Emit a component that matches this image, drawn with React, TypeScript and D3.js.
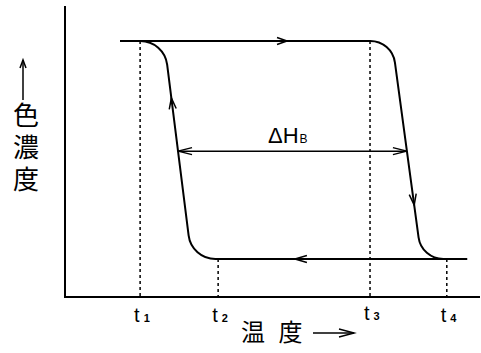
import React from "react";
import * as d3 from "d3";

// ---- data (temperature 0..100, colour density 0..100) ----
const HIGH = 88.3;
const LOW = 13.1;
const tempTicks = [18.1, 36.9, 73.5, 92.0];
const tickSubs = ["1", "2", "3", "4"];
// polyline vertices of each branch (corners get rounded)
const heatingBranch: [number, number][] = [
  [13.25, 88.3], [78.8, 88.3], [85.9, 13.1], [96.9, 13.1],
];
const coolingBranch: [number, number][] = [
  [18.1, 88.3], [23.9, 88.3], [30.5, 13.1], [96.9, 13.1],
];
const topArrowX = 53.5;
const bottomArrowX = 55.4;
const coolingArrowY = 68.6;
const heatingArrowY = 31.7;
const deltaY = 50.3;
const yLabel = "色濃度";
const xLabel = "温 度";

const W = 481, H = 353;
const x = d3.scaleLinear().domain([0, 100]).range([65, 480]);
const y = d3.scaleLinear().domain([0, 100]).range([297, 7]);

function roundedPath(pts: [number, number][], r: number) {
  const p = d3.path();
  const P = pts.map(d => [x(d[0]), y(d[1])]);
  p.moveTo(P[0][0], P[0][1]);
  for (let i = 1; i < P.length - 1; i++) p.arcTo(P[i][0], P[i][1], P[i + 1][0], P[i + 1][1], r);
  p.lineTo(P[P.length - 1][0], P[P.length - 1][1]);
  return p.toString();
}

function slopeX(branch: [number, number][], yv: number) {
  const [a, b] = [branch[1], branch[2]];
  const t = (yv - a[1]) / (b[1] - a[1]);
  return a[0] + t * (b[0] - a[0]);
}

function Head({ tx, ty, ang, len = 11, spread = 3.8, sw = 1.5 }:
  { tx: number; ty: number; ang: number; len?: number; spread?: number; sw?: number }) {
  const bx = tx - Math.cos(ang) * len, by = ty - Math.sin(ang) * len;
  const px = -Math.sin(ang) * spread, py = Math.cos(ang) * spread;
  return (
    <path d={`M${bx + px},${by + py}L${tx},${ty}L${bx - px},${by - py}`}
      fill="none" stroke="#000" strokeWidth={sw} />
  );
}

export default function App() {
  const c1 = [x(coolingBranch[1][0]), y(coolingBranch[1][1])];
  const c2 = [x(coolingBranch[2][0]), y(coolingBranch[2][1])];
  const h1 = [x(heatingBranch[1][0]), y(heatingBranch[1][1])];
  const h2 = [x(heatingBranch[2][0]), y(heatingBranch[2][1])];
  const upAng = Math.atan2(c1[1] - c2[1], c1[0] - c2[0]);
  const downAng = Math.atan2(h2[1] - h1[1], h2[0] - h1[0]);
  const cArrowX = x(slopeX(coolingBranch, coolingArrowY));
  const hArrowX = x(slopeX(heatingBranch, heatingArrowY));
  const dLeft = x(slopeX(coolingBranch, deltaY));
  const dRight = x(slopeX(heatingBranch, deltaY));
  const dy = y(deltaY);

  return (
    <svg width={W} height={H} style={{ position: "absolute", left: 0, top: 0, background: "#fff" }}>
      {/* axes */}
      <line x1={x(0)} y1={y(0)} x2={x(0)} y2={6} stroke="#000" strokeWidth={2} />
      <line x1={x(0) - 1} y1={y(0)} x2={x(100)} y2={y(0)} stroke="#000" strokeWidth={2} />

      {/* dashed temperature guides */}
      {tempTicks.map((t, i) => (
        <line key={i} x1={x(t)} x2={x(t)} y1={y(i % 2 === 0 ? HIGH : LOW)} y2={y(0)}
          stroke="#000" strokeWidth={1.5} strokeDasharray="3,3" />
      ))}

      {/* hysteresis curves */}
      <path d={roundedPath(heatingBranch, 25)} fill="none" stroke="#000" strokeWidth={2} />
      <path d={roundedPath(coolingBranch, 27)} fill="none" stroke="#000" strokeWidth={2} />

      {/* direction arrows */}
      <Head tx={x(topArrowX)} ty={y(HIGH)} ang={0} len={10} spread={3.5} />
      <Head tx={x(bottomArrowX)} ty={y(LOW)} ang={Math.PI} len={12} spread={3.5} />
      <Head tx={cArrowX} ty={y(coolingArrowY)} ang={upAng} len={11} spread={3.5} />
      <Head tx={hArrowX} ty={y(heatingArrowY)} ang={downAng} len={11} spread={3.5} />

      {/* ΔH_B */}
      <line x1={dLeft} y1={dy} x2={dRight} y2={dy} stroke="#000" strokeWidth={1.5} />
      <Head tx={dLeft} ty={dy} ang={Math.PI} len={14} spread={3.5} />
      <Head tx={dRight} ty={dy} ang={0} len={14} spread={3.5} />
      <text x={268} y={dy - 8} fontFamily="'Liberation Sans', Arial, sans-serif" fontSize={22}>
        ΔH<tspan fontSize={12} dx={1}>B</tspan>
      </text>

      {/* tick labels */}
      {tempTicks.map((t, i) => (
        <text key={i} x={x(t) - 6} y={i === 2 ? 320 : 322}
          fontFamily="'Liberation Sans', Arial, sans-serif" fontSize={20}>
          t<tspan fontSize={11} dx={4} fontWeight="bold">{tickSubs[i]}</tspan>
        </text>
      ))}

      {/* x label */}
      <text x={241} y={341} letterSpacing={4} fontFamily="'Noto Sans CJK JP', sans-serif" fontSize={24}>{xLabel}</text>
      <line x1={313} y1={333} x2={354} y2={333} stroke="#000" strokeWidth={1.5} />
      <Head tx={354} ty={333} ang={0} len={15} spread={4} />

      {/* y label */}
      <line x1={23} y1={100} x2={23} y2={60} stroke="#000" strokeWidth={1.5} />
      <Head tx={23} ty={60} ang={-Math.PI / 2} len={8} spread={3} />
      <text x={26} y={102} style={{ writingMode: "vertical-rl" }} letterSpacing={6}
        fontFamily="'Noto Sans CJK JP', sans-serif" fontSize={26}>{yLabel}</text>
    </svg>
  );
}
